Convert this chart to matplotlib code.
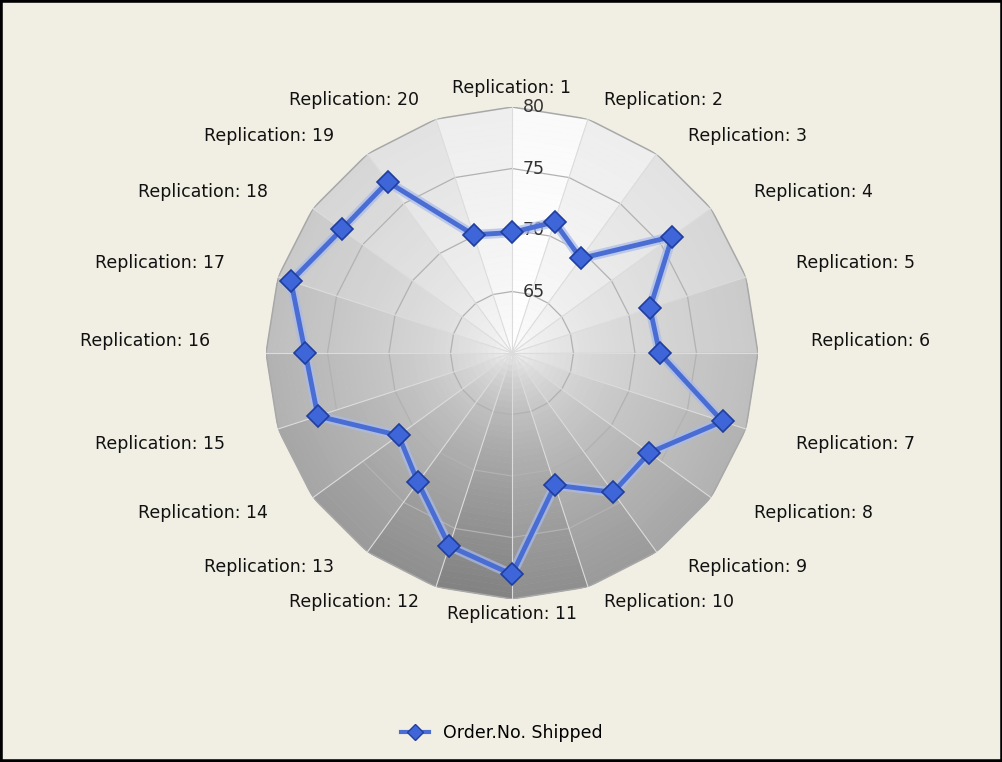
import numpy as np
import matplotlib.pyplot as plt
import matplotlib.patheffects as pe
from matplotlib.collections import PolyCollection
from matplotlib.lines import Line2D
from matplotlib.patches import Rectangle

# ------------------------------------------------------------- data

categories = [f"Replication: {i}" for i in range(1, 21)]
shipped = [69.8, 71.2, 69.5, 76.1, 71.8, 72.0, 78.0, 73.8, 74.0, 71.3,
           78.0, 76.5, 73.0, 71.4, 76.6, 76.8, 78.9, 77.1, 77.2, 70.1]
r_ticks = [65, 70, 75, 80]
series_name = "Order.No. Shipped"
r_min, r_max = 60, 80

# ------------------------------------------------------------- figure

bg = "#f1eee3"
fig = plt.figure(figsize=(10.03, 7.62), dpi=100, facecolor=bg)
ax = fig.add_axes([0.2652, 0.2139, 0.4905, 0.6457], projection="polar")
ax.set_theta_zero_location("N")
ax.set_theta_direction(-1)
ax.set_ylim(r_min, r_max)
ax.set_axis_off()

n = len(categories)
step = 2 * np.pi / n
angles = np.arange(n) * step

# shaded background, lit from the top-right, darker toward the rim
edges = np.linspace(r_min, r_max, 41)
verts, cols = [], []
for i in range(n):
    t0, t1 = angles[i], angles[i] + step
    diff = abs((np.degrees((t0 + t1) / 2) - 9 + 180) % 360 - 180)
    depth = 0.47 * diff / 180
    for j in range(len(edges) - 1):
        r0, r1 = edges[j], edges[j + 1]
        rho = ((r0 + r1) / 2 - r_min) / (r_max - r_min)
        g = 1 - depth * rho ** 0.4 - 0.02 * rho
        verts.append([(t0, r0), (t1, r0), (t1, r1), (t0, r1)])
        cols.append((g, g, g))
ax.add_collection(PolyCollection(verts, facecolors=cols, edgecolors=cols,
                                 linewidths=0.4, zorder=1))
ax.set_ylim(r_min, r_max)

# polygon grid
ring_t = np.append(angles, angles[0])
for v in r_ticks[:-1]:
    ax.plot(ring_t, [v] * (n + 1), color="#b2b2b2", lw=0.9, zorder=2)
ax.plot(ring_t, [r_max] * (n + 1), color="#a8a8a8", lw=1.1, zorder=2)
for a in angles:
    ax.plot([a, a], [r_min, r_max], color="#dcdcdc", lw=0.8, zorder=2)

# radial tick labels
for v in r_ticks:
    ax.annotate(str(v), xy=(0, v), xytext=(7.5, 0), textcoords="offset points",
                ha="left", va="center", fontsize=12.5, color="#333333",
                zorder=3, annotation_clip=False)

# category labels
for a, lab in zip(angles, categories):
    s, c = np.sin(a), np.cos(a)
    ha = "center" if abs(s) < 0.01 else ("left" if s > 0 else "right")
    if c >= -0.01:
        va, dy = "bottom", 3 + 7 * c
    else:
        va, dy = "top", -6
    dx = 53 * s if s > 0 else 56 * s
    ax.annotate(lab, xy=(a, r_max), xytext=(dx * 0.72, dy * 0.72),
                textcoords="offset points", ha=ha, va=va, fontsize=12.5,
                color="#111111", annotation_clip=False)

# series
line_col, mark_col, edge_col = "#4a6dd3", "#3f66d8", "#1f3e9e"
ax.plot(np.append(angles, angles[0]), shipped + shipped[:1], color=line_col,
        lw=3.5, zorder=5, clip_on=False,
        path_effects=[pe.Stroke(linewidth=7, foreground="#a9bbea", alpha=0.7),
                      pe.Normal()])
ax.plot(angles, shipped, ls="none", marker="D", ms=11.5, mfc=mark_col,
        mec=edge_col, mew=1.2, zorder=6, clip_on=False)

# legend
handle = Line2D([], [], color=line_col, lw=3, marker="D", ms=8,
                mfc=mark_col, mec=edge_col)
fig.legend([handle], [series_name], loc="center", bbox_to_anchor=(0.5, 0.038),
           frameon=False, fontsize=12.5, handlelength=1.6)

fig.add_artist(Rectangle((0, 0), 1, 1, transform=fig.transFigure, fill=False,
                         lw=4, ec="black"))

fig.savefig("out.png", dpi=100, facecolor=bg)
